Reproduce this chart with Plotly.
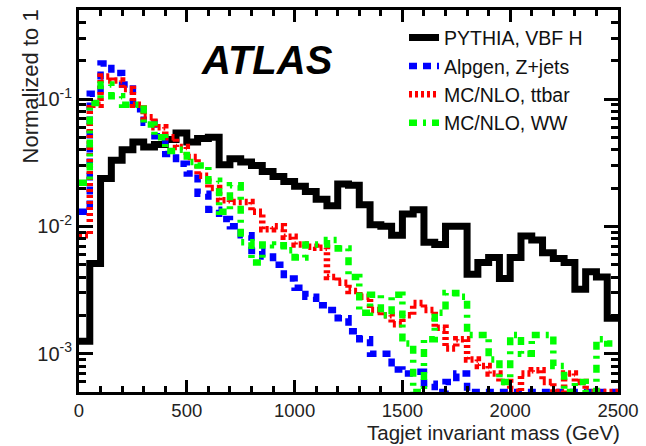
import plotly.graph_objects as go

# ---- data (50 bins of 50 GeV, 0-2500 GeV) ----
bin_edges = [50 * i for i in range(51)]

pythia_vbfh = [0.00125, 0.0051, 0.0237, 0.033, 0.040, 0.046, 0.042, 0.044, 0.048, 0.054,
               0.046, 0.049, 0.050, 0.0305, 0.034, 0.032, 0.030, 0.027, 0.0246, 0.0225,
               0.0206, 0.0188, 0.0163, 0.0145, 0.0215, 0.021, 0.0148, 0.0103, 0.010, 0.0085,
               0.0125, 0.0135, 0.0075, 0.0072, 0.010, 0.010, 0.0042, 0.0052, 0.0057, 0.0039,
               0.0057, 0.0084, 0.0078, 0.0062, 0.0056, 0.0052, 0.0032, 0.0044, 0.0040, 0.0019]

alpgen_zjets = [0.013, 0.11, 0.19, 0.16, 0.13, 0.083, 0.065, 0.051, 0.037, 0.031,
                0.026, 0.018, 0.0135, 0.0114, 0.010, 0.0085, 0.0064, 0.0058, 0.0050, 0.0039,
                0.0033, 0.0028, 0.0024, 0.0022, 0.0019, 0.0015, 0.0013, 0.0010, 0.0010, 0.00075,
                0.0007, 0.00072, 0.00058, 0, 0.0006, 0.0007, 0, 0, 0, 0,
                0, 0, 0, 0, 0, 0, 0, 0, 0, 0]

mcnlo_ttbar = [0.0085, 0.09, 0.15, 0.14, 0.12, 0.09, 0.072, 0.060, 0.050, 0.042,
               0.035, 0.025, 0.020, 0.016, 0.0155, 0.0155, 0.013, 0.0095, 0.010, 0.0083,
               0.0072, 0.0069, 0.0068, 0.0040, 0.0036, 0.0031, 0.0028, 0.0022, 0.0020, 0.0017,
               0.0020, 0.0025, 0.0022, 0.0016, 0.0011, 0.0013, 0.0009, 0.0008, 0.0007, 0.0006,
               0, 0.0007, 0.00074, 0.0006, 0, 0.0007, 0.0006, 0, 0, 0]

mcnlo_ww = [0.022, 0.093, 0.13, 0.105, 0.09, 0.09, 0.063, 0.050, 0.039, 0.040,
            0.032, 0.030, 0.0228, 0.013, 0.021, 0.0075, 0.0052, 0.0072, 0.0071, 0.0065,
            0.0057, 0.0072, 0.0072, 0.0078, 0.0067, 0.0040, 0.0021, 0.0029, 0.0020, 0.0029,
            0.0012, 0, 0.0013, 0.0021, 0.0030, 0.0028, 0.0014, 0.0014, 0.0009, 0.0006,
            0.0014, 0.0010, 0.0014, 0.0014, 0.0008, 0, 0.0006, 0, 0.0013, 0.0012]

series_names = ["PYTHIA, VBF H", "Alpgen, Z+jets", "MC/NLO, ttbar", "MC/NLO, WW"]
x_tick_values = [0, 500, 1000, 1500, 2000, 2500]
y_tick_values = [1e-3, 1e-2, 1e-1]
y_tick_labels = ["10<sup>-3</sup>", "10<sup>-2</sup>", "10<sup>-1</sup>"]

Y_MIN, Y_MAX = 5e-4, 0.5

def step_xy(vals):
    ys = [v if v > 0 else Y_MIN for v in vals]
    return bin_edges, ys + [ys[-1]]

styles = [
    dict(color="black", width=7, dash="solid"),
    dict(color="#0000ff", width=6.5, dash="8px,6px"),
    dict(color="#ff0000", width=6.5, dash="3px,3px"),
    dict(color="#00ff00", width=6.5, dash="8px,6px,3px,6px"),
]

fig = go.Figure()
for name, vals, st in zip(series_names, [pythia_vbfh, alpgen_zjets, mcnlo_ttbar, mcnlo_ww], styles):
    xs, ys = step_xy(vals)
    fig.add_trace(go.Scatter(x=xs, y=ys, mode="lines", name=name,
                             line=dict(shape="hv", color=st["color"], width=st["width"], dash=st["dash"])))

minor_y = [k * 10 ** e for e in range(-4, 0) for k in range(2, 10) if Y_MIN <= k * 10 ** e <= Y_MAX]

font = "Liberation Sans, Arial, sans-serif"
fig.update_layout(
    width=646, height=446,
    margin=dict(l=79, r=24, t=7, b=54),
    paper_bgcolor="white", plot_bgcolor="white",
    font=dict(family=font, size=20, color="black"),
    showlegend=True,
    legend=dict(x=0.603, y=0.978, xanchor="left", yanchor="top",
                bgcolor="rgba(255,255,255,0)", borderwidth=0,
                font=dict(size=19.5, family=font, color="#111111"), tracegroupgap=0),
    xaxis=dict(range=[0, 2500], showgrid=False, zeroline=False,
               showline=True, linewidth=3, linecolor="black", mirror="allticks",
               ticks="inside", ticklen=12, tickwidth=2.5, tickcolor="black",
               tickvals=x_tick_values, ticktext=[str(v) for v in x_tick_values],
               tickfont=dict(size=18.5, color="#222222"),
               minor=dict(ticks="inside", ticklen=6, tickwidth=2.5, tickcolor="black", dtick=100)),
    yaxis=dict(type="log", range=[-3.30103, -0.30103], showgrid=False, zeroline=False,
               showline=True, linewidth=3, linecolor="black", mirror="allticks",
               ticks="inside", ticklen=14, tickwidth=2.5, tickcolor="black",
               tickvals=y_tick_values, ticktext=y_tick_labels,
               tickfont=dict(size=20, color="#222222"),
               minor=dict(ticks="inside", ticklen=7, tickwidth=2.5, tickcolor="black", tickvals=minor_y)),
    annotations=[
        dict(text="<b><i>ATLAS</i></b>", xref="paper", yref="paper", x=0.222, y=0.868,
             xanchor="left", yanchor="middle", showarrow=False,
             font=dict(size=40, family=font, color="black")),
        dict(text="Normalized to 1", xref="paper", yref="paper", x=-0.09, y=1.008,
             xanchor="center", yanchor="top", textangle=-90, showarrow=False,
             font=dict(size=22, family=font, color="#222222")),
        dict(text="Tagjet invariant mass (GeV)", xref="paper", yref="paper", x=1.0, y=-0.106,
             xanchor="right", yanchor="middle", showarrow=False, xshift=4,
             font=dict(size=20.5, family=font, color="#222222")),
    ],
)

fig.write_html("out.html")
